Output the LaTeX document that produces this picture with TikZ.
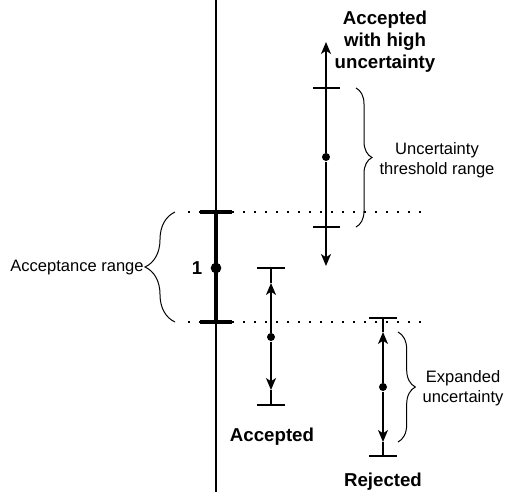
\documentclass[tikz,border=0pt]{standalone}
\usepackage{fontspec}
\setmainfont{Liberation Sans}
\usetikzlibrary{arrows.meta,decorations.pathreplacing}

\tikzset{every picture/.style={line width=0.75pt}}
\tikzset{
  dotline/.style={line width=1.5pt, dash pattern=on 1.5pt off 6.75pt},
  capline/.style={line width=1pt},
  tipline/.style={line width=1pt,-{Stealth[length=9pt,width=7.5pt,inset=2.5pt]}},
  dotnode/.style={circle,fill,inner sep=0pt,minimum size=6pt},
  bigdot/.style={circle,fill,inner sep=0pt,minimum size=8pt},
  plaintext/.style={font=\fontsize{12.4}{15}\selectfont,align=center},
  boldtext/.style={font=\fontsize{14}{16.5}\selectfont\bfseries,align=center},
  bracket/.style={decorate,decoration={brace,amplitude=#1},line width=0.75pt},
}

\begin{document}
\begin{tikzpicture}[x=0.75pt,y=0.75pt,yscale=-1,xscale=1]
\useasboundingbox (0,0) rectangle (507,494);

%Axis
\coordinate (axtop) at (216,0);
\coordinate (axbot) at (216,492);
\draw [line width=0.9pt] (axtop) -- (axbot);

%Dotted limits of the acceptance range
\coordinate (uplimL) at (188,212);
\coordinate (uplimR) at (426,212);
\coordinate (lowlimL) at (188,322);
\coordinate (lowlimR) at (426,322);
\draw [dotline] (uplimL) -- (uplimR);
\draw [dotline] (lowlimL) -- (lowlimR);

%Reference bar
\coordinate (refup) at (216,212);
\coordinate (reflow) at (216,322);
\coordinate (refupL) at (200,212);
\coordinate (refupR) at (232,212);
\coordinate (reflowL) at (200,322);
\coordinate (reflowR) at (232,322);
\draw [line width=3pt] (refup) -- (reflow);
\draw [line width=3pt] (refupL) -- (refupR);
\draw [line width=3pt] (reflowL) -- (reflowR);
\node [bigdot] (refdot) at (216,268) {};

%Accepted with high uncertainty
\node [dotnode] (hidot) at (326,157) {};
\coordinate (hitipA) at (326,42);
\coordinate (hitipB) at (326,266);
\draw [tipline] (hidot) -- (hitipA);
\draw [tipline] (hidot) -- (hitipB);
\coordinate (hicapAL) at (313,88);
\coordinate (hicapAR) at (340,88);
\coordinate (hicapBL) at (313,227);
\coordinate (hicapBR) at (340,227);
\draw [capline] (hicapAL) -- (hicapAR);
\draw [capline] (hicapBL) -- (hicapBR);

%Accepted
\node [dotnode] (acdot) at (271,337) {};
\coordinate (actipA) at (271,283);
\coordinate (actipB) at (271,390);
\coordinate (accapA) at (271,268);
\coordinate (accapB) at (271,405);
\draw [tipline] (acdot) -- (actipA);
\draw [tipline] (acdot) -- (actipB);
\draw [capline] (actipA) -- (accapA);
\draw [capline] (actipB) -- (accapB);
\coordinate (accapAL) at (257,268);
\coordinate (accapAR) at (285,268);
\coordinate (accapBL) at (257,405);
\coordinate (accapBR) at (285,405);
\draw [capline] (accapAL) -- (accapAR);
\draw [capline] (accapBL) -- (accapBR);

%Rejected
\node [dotnode] (rjdot) at (383,387) {};
\coordinate (rjtipA) at (383,332);
\coordinate (rjtipB) at (383,442);
\coordinate (rjcapA) at (383,318);
\coordinate (rjcapB) at (383,456);
\draw [tipline] (rjdot) -- (rjtipA);
\draw [tipline] (rjdot) -- (rjtipB);
\draw [capline] (rjtipA) -- (rjcapA);
\draw [capline] (rjtipB) -- (rjcapB);
\coordinate (rjcapAL) at (369,318);
\coordinate (rjcapAR) at (397,318);
\coordinate (rjcapBL) at (369,456);
\coordinate (rjcapBR) at (397,456);
\draw [capline] (rjcapAL) -- (rjcapAR);
\draw [capline] (rjcapBL) -- (rjcapBR);

%Braces
\coordinate (acbrA) at (175,322);
\coordinate (acbrB) at (175,212);
\draw [bracket=22.5pt] (acbrA) -- (acbrB);
\coordinate (utbrA) at (356,88);
\coordinate (utbrB) at (356,227);
\draw [bracket=12pt] (utbrA) -- (utbrB);
\coordinate (exbrA) at (398,332);
\coordinate (exbrB) at (398,442);
\draw [bracket=13pt] (exbrA) -- (exbrB);

% Text Node
\node [boldtext] (one) at (197,268) {1};
% Text Node
\node [plaintext] (acrange) at (77,268) {Acceptance range};
% Text Node
\node [boldtext] (hilabel) at (385,42) {Accepted\\with high\\uncertainty};
% Text Node
\node [plaintext] (utlabel) at (437,160) {Uncertainty\\threshold range};
% Text Node
\node [plaintext] (exlabel) at (463,388) {Expanded\\uncertainty};
% Text Node
\node [boldtext] (aclabel) at (272,437) {Accepted};
% Text Node
\node [boldtext] (rjlabel) at (383,482) {Rejected};
\end{tikzpicture}
\end{document}
